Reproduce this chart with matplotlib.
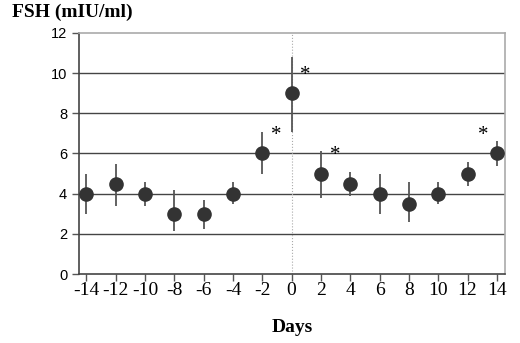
import matplotlib
matplotlib.use('Agg')
import matplotlib.pyplot as plt

plt.rcParams['axes.unicode_minus'] = False

# FSH data
days = [-14, -12, -10, -8, -6, -4, -2, 0, 2, 4, 6, 8, 10, 12, 14]
fsh = [4.0, 4.5, 4.0, 3.0, 3.0, 4.0, 6.0, 9.0, 5.0, 4.5, 4.0, 3.5, 4.0, 5.0, 6.0]
err_hi = [5.0, 5.5, 4.6, 4.2, 3.7, 4.6, 7.05, 10.8, 6.1, 5.1, 5.0, 4.6, 4.6, 5.6, 6.6]
err_lo = [3.0, 3.4, 3.4, 2.15, 2.25, 3.5, 5.0, 7.05, 3.8, 3.9, 3.0, 2.6, 3.5, 4.4, 5.4]
star_days = [-2, 0, 2, 14]
star_side = [1, 1, 1, -1]   # asterisk to the right (1) or left (-1) of the point

yerr = [[f - lo for f, lo in zip(fsh, err_lo)], [hi - f for f, hi in zip(fsh, err_hi)]]

fig = plt.figure(figsize=(5.2, 3.43), dpi=100)
ax = fig.add_axes([0.152, 0.201, 0.819, 0.703])

    # horizontal grid lines and dotted line at day 0
for y in [2, 4, 6, 8, 10]:
    ax.axhline(y, color='#444444', lw=1.0, zorder=1)
ax.axvline(0, color='#aaaaaa', lw=0.8, ls=':', zorder=1)

ax.errorbar(days, fsh, yerr=yerr, fmt='o', color='#333333', ecolor='#555555',
            elinewidth=1.3, markersize=9.5, capsize=0, zorder=3)

    # asterisks for significant days
for d, side in zip(star_days, star_side):
    i = days.index(d)
    ax.annotate('*', (days[i], fsh[i]), xytext=(side * 10, 13), textcoords='offset points',
                fontsize=15, family='Liberation Serif', ha='center', va='center')

ax.set_xlim(-14.5, 14.55)
ax.set_ylim(0, 12)
ax.set_xticks(range(-14, 15, 2))
ax.set_yticks(range(0, 13, 2))

for lbl in ax.get_xticklabels():
    lbl.set_family('Liberation Serif')
    lbl.set_fontsize(14)
for lbl in ax.get_yticklabels():
    lbl.set_family('Liberation Sans')
    lbl.set_fontsize(10.5)

ax.tick_params(axis='both', direction='out', length=5, width=1, color='#555555')
ax.tick_params(axis='x', pad=1)
ax.spines['left'].set_color('#444444')
ax.spines['bottom'].set_color('#444444')
ax.spines['top'].set_color('#aaaaaa')
ax.spines['right'].set_color('#aaaaaa')
for s in ax.spines.values():
    s.set_linewidth(1.2)

ax.set_xlabel('Days', family='Liberation Serif', fontsize=14, fontweight='bold', labelpad=14)
fig.text(0.023, 0.965, 'FSH (mIU/ml)', family='Liberation Serif', fontsize=14,
         fontweight='bold', ha='left', va='center')

plt.savefig('out.png', dpi=100)
